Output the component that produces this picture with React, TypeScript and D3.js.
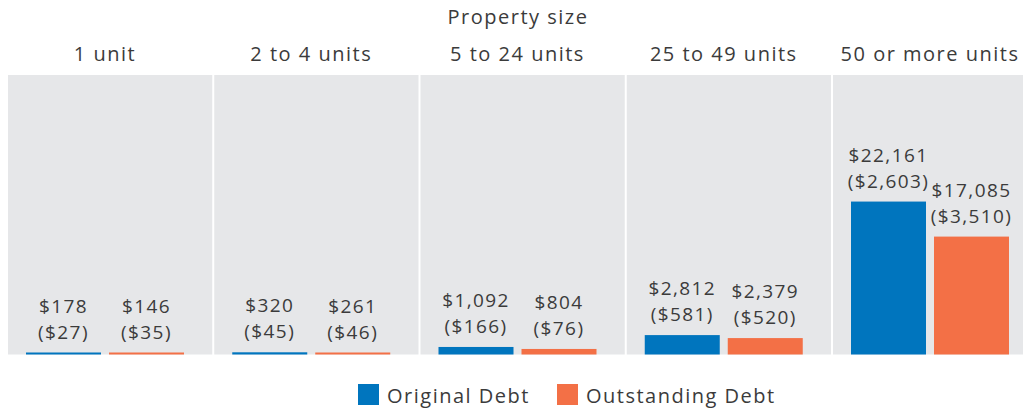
import React from 'react';
import { scaleBand, scaleLinear, scaleOrdinal, format } from 'd3';

const categories = ['1 unit', '2 to 4 units', '5 to 24 units', '25 to 49 units', '50 or more units'];
const series = ['Original Debt', 'Outstanding Debt'];
const originalDebt = [178, 320, 1092, 2812, 22161];
const originalDebtSub = [27, 45, 166, 581, 2603];
const outstandingDebt = [146, 261, 804, 2379, 17085];
const outstandingDebtSub = [35, 46, 76, 520, 3510];

const W = 1023;
const H = 413;
const top = 75;
const base = 354.5;
const font = '"Open Sans", "DejaVu Sans", sans-serif';
const textColor = '#3b3b3b';
const fs = 20;
const wordLs = 1.5;
const numFs = 19;
const numLs = 1.4;

const x = scaleBand<string>().domain(categories).range([8, 8 + 206.25 * 5]);
const y = scaleLinear().domain([0, 40500]).range([base, top]);
const color = scaleOrdinal<string, string>().domain(series).range(['#0075be', '#f37046']);
const money = format(',');

const barW = 75;
const offsets = [-79, 4];

const App = () => {
  const data = [
    { key: series[0], values: originalDebt, subs: originalDebtSub },
    { key: series[1], values: outstandingDebt, subs: outstandingDebtSub },
  ];

  return (
    <svg width={W} height={H} style={{ position: 'absolute', left: 0, top: 0 }} fontFamily={font} fontSize={fs} fill={textColor}>
      <text x={518} y={24} textAnchor='middle' letterSpacing={wordLs}>Property size</text>

      {categories.map((c, i) => {
        const cx = x(c)! + 97;
        return (
          <g key={c}>
            <rect x={x(c)} y={top} width={x.step() - 2} height={base - top} fill='#e6e7e9' />
            <text x={cx} y={61} textAnchor='middle' letterSpacing={wordLs}>{c}</text>
            {data.map((s, j) => {
              const bx = cx + offsets[j];
              const by = Math.min(y(s.values[i]), base - 2);
              const tx = bx + barW / 2;
              return (
                <g key={s.key} fontSize={numFs} letterSpacing={numLs}>
                  <rect x={bx} y={by} width={barW} height={base - by} fill={color(s.key)} />
                  <text x={tx} y={by - 40} textAnchor='middle'>${money(s.values[i])}</text>
                  <text x={tx} y={by - 14} textAnchor='middle'>(${money(s.subs[i])})</text>
                </g>
              );
            })}
          </g>
        );
      })}

      {series.map((s, i) => {
        const lx = [358, 557][i];
        return (
          <g key={s}>
            <rect x={lx} y={384} width={21} height={21} fill={color(s)} />
            <text x={lx + 29} y={403} letterSpacing={wordLs}>{s}</text>
          </g>
        );
      })}
    </svg>
  );
};

export default App;
